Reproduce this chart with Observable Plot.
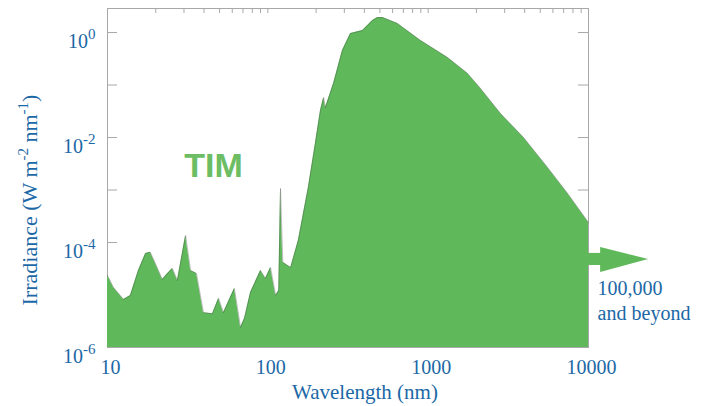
<!DOCTYPE html>
<html><head><meta charset="utf-8">
<script src="https://cdn.jsdelivr.net/npm/d3@7"></script>
<script src="https://cdn.jsdelivr.net/npm/@observablehq/plot@0.6"></script>
<style>html,body{margin:0;padding:0;background:#fff}#chart{width:711px;height:406px}</style>
</head><body><div id="chart"></div>
<script>
// Solar spectral irradiance (TIM) — wavelength in nm, irradiance in W m^-2 nm^-1
const wavelength = [10, 10.9, 12.6, 13.9, 15.6, 17.3, 18.5, 19.9, 22.0, 23.7, 25.4, 27.3, 30.7, 33.0, 35.9, 39.7,
  45.2, 49.3, 52.9, 61.9, 67.6, 71.6, 78.0, 90.1, 96.8, 104, 112, 117, 120, 124, 139, 155, 179, 198, 213, 223, 229,
  257, 292, 328, 390, 450, 483, 520, 644, 897, 1321, 1762, 2123, 2829, 3936, 5559, 7413, 9594, 10000];
const irradiance = [2.35e-5, 1.39e-5, 8.2e-6, 9.8e-6, 2.93e-5, 6.2e-5, 6.5e-5, 4.0e-5, 1.97e-5, 2.57e-5, 3.2e-5, 1.89e-5,
  1.36e-4, 2.93e-5, 2.57e-5, 4.6e-6, 4.4e-6, 8.6e-6, 4.6e-6, 1.33e-5, 2.4e-6, 3.6e-6, 1.12e-5, 2.93e-5, 2.06e-5, 3.34e-5,
  9.8e-6, 1.22e-5, 1.07e-3, 4.2e-5, 3.34e-5, 1.09e-4, 1.12e-3, 7.7e-3, 0.0327, 0.0578, 0.0372, 0.107, 0.454, 0.957,
  1.09, 1.69, 1.93, 1.93, 1.48, 0.705, 0.334, 0.166, 0.0857, 0.0286, 0.01, 2.69e-3, 8.6e-4, 2.86e-4, 2.4e-4];

const yMajorTicks = [1e-6, 1e-5, 1e-4, 1e-3, 1e-2, 1e-1, 1];
const yLabelTicks = [1e-6, 1e-4, 1e-2, 1];
const xLabelTicks = [10, 100, 1000, 10000];
const xLabelText = ["10", "100", "1000", "10000"];
const xTopTicks = [10, 20, 30, 40, 50, 60, 70, 80, 90, 100, 200, 300, 400, 500, 600, 700, 800, 900,
  1000, 2000, 3000, 4000, 5000, 6000, 7000, 8000, 9000, 10000];

// annotation: arrow toward "100,000 and beyond"
const arrowShaftX = [10000, 12100];
const arrowShaftLow = [3.65e-5, 3.65e-5];
const arrowShaftHigh = [6.2e-5, 6.2e-5];
const arrowHeadX = [11900, 23700];
const arrowHeadLow = [2.69e-5, 4.74e-5];
const arrowHeadHigh = [8.04e-5, 4.74e-5];
const beyondText = ["100,000\nand beyond"];
const beyondX = [11400];
const beyondY = [8.2e-6];
const timText = ["TIM"];
const timX = [45.8];
const timY = [2.86e-3];

const BLUE = "#1c68a6";
const GREEN = "#5fb95b";
const GRAY = "#a8a8a8";
const SERIF = "'Liberation Serif', 'Times New Roman', serif";
const X0 = 10, X1 = 10000, Y1 = 2.87;

const spectrum = wavelength.map((w, i) => ({w, v: irradiance[i]}));
const shaft = arrowShaftX.map((x, i) => ({x, lo: arrowShaftLow[i], hi: arrowShaftHigh[i]}));
const head = arrowHeadX.map((x, i) => ({x, lo: arrowHeadLow[i], hi: arrowHeadHigh[i]}));

const chart = Plot.plot({
  width: 711, height: 406,
  marginLeft: 107, marginRight: 123, marginTop: 8, marginBottom: 59,
  x: {type: "log", domain: [X0, X1], label: null},
  y: {type: "log", domain: [1e-6, Y1], label: null},
  style: {fontFamily: SERIF, fontSize: "20px", color: BLUE, background: "white"},
  marks: [
    Plot.frame({stroke: GRAY}),
    // short inward frame ticks (10 px on the left/right, 5 px on top)
    Plot.ruleY(yMajorTicks, {y: d => d, x1: X0, x2: X0 * 1.155, stroke: GRAY}),
    Plot.ruleY(yMajorTicks, {y: d => d, x1: X1 / 1.155, x2: X1, stroke: GRAY}),
    Plot.ruleX(xTopTicks, {x: d => d, y1: Y1, y2: Y1 / 1.245, stroke: GRAY}),
    Plot.areaY(spectrum, {x: "w", y1: () => 1e-6, y2: "v", fill: GREEN}),
    Plot.line(spectrum, {x: "w", y: "v", stroke: "#4a4a4a", strokeOpacity: 0.35, strokeWidth: 1}),
    Plot.areaY(shaft, {x: "x", y1: "lo", y2: "hi", fill: GREEN}),
    Plot.areaY(head, {x: "x", y1: "lo", y2: "hi", fill: GREEN}),
    Plot.text(timText, {x: timX, y: timY, text: d => d, fontFamily: "'Liberation Sans', Arial, sans-serif",
      fontWeight: "bold", fontSize: 34, fill: "#6cbd63"}),
    Plot.text(beyondText, {x: beyondX, y: beyondY, text: d => d, textAnchor: "start", lineHeight: 1.25,
      fontSize: 20, fill: BLUE}),
    Plot.axisY({anchor: "left", ticks: yLabelTicks, tickSize: 0, tickPadding: 12, dy: 9,
      tickFormat: d => "10|" + Math.round(Math.log10(d)), label: null}),
    Plot.axisX({anchor: "bottom", ticks: xLabelTicks, tickSize: 0, tickPadding: 12, dx: 3,
      tickFormat: d => xLabelText[xLabelTicks.indexOf(d)], label: null}),
    Plot.text(["Wavelength (nm)"], {frameAnchor: "bottom", lineAnchor: "middle", text: d => d, dy: 45, dx: 17,
      fontSize: 21, fill: BLUE})
  ]
});
document.getElementById("chart").appendChild(chart);

const svg = d3.select(chart.tagName.toLowerCase() === "svg" ? chart : chart.querySelector("svg"));

// superscript exponents on y tick labels
svg.selectAll("text").each(function () {
  const t = this.textContent;
  if (!t.includes("|") || this.querySelector("tspan")) return;
  const [b, e] = t.split("|");
  const s = d3.select(this);
  s.text(null);
  s.append("tspan").text(b);
  s.append("tspan").attr("dy", -9).attr("font-size", 15).text(e);
});

const yl = svg.append("text")
  .attr("transform", "translate(37,200) rotate(-90)")
  .attr("text-anchor", "middle")
  .attr("fill", BLUE)
  .attr("font-family", SERIF)
  .attr("font-size", 22);
yl.append("tspan").text("Irradiance (W m");
yl.append("tspan").attr("dy", -9).attr("font-size", 15).text("-2");
yl.append("tspan").attr("dy", 9).text(" nm");
yl.append("tspan").attr("dy", -9).attr("font-size", 15).text("-1");
yl.append("tspan").attr("dy", 9).text(")");
</script>
</body></html>
